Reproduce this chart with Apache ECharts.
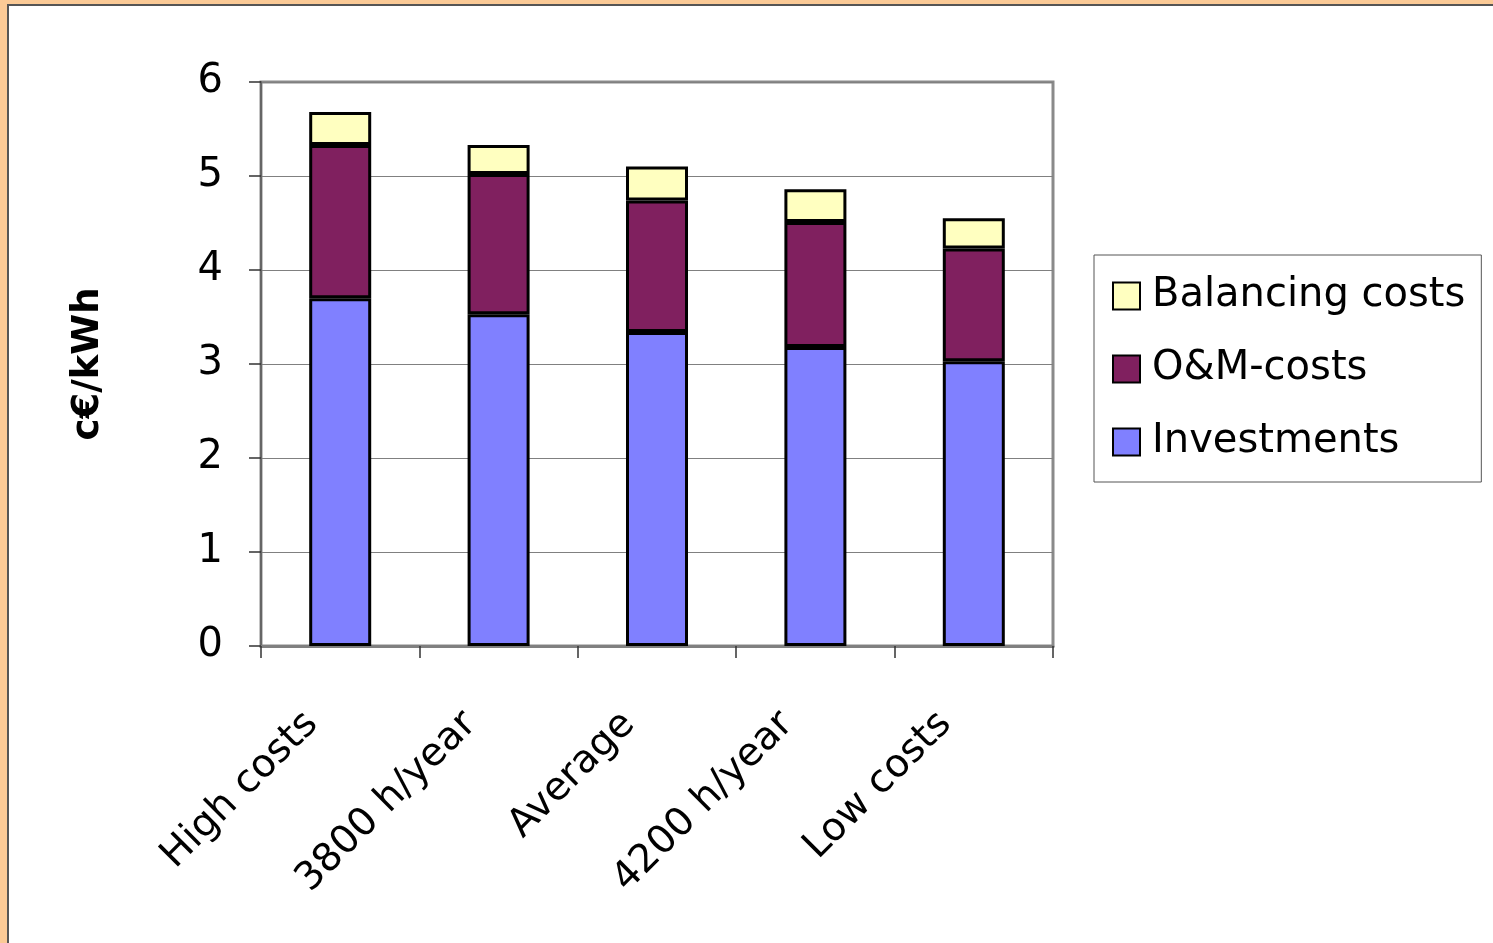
<!DOCTYPE html>
<html>
<head>
<meta charset="utf-8">
<script src="https://cdn.jsdelivr.net/npm/echarts@6/dist/echarts.min.js"></script>
<style>
  html, body { margin: 0; padding: 0; width: 1493px; height: 943px; overflow: hidden; background: #fbca96; }
  #panel { position: absolute; left: 7px; top: 4px; right: -4px; bottom: -4px; background: #fff; border-left: 2px solid #555; border-top: 2px solid #555; }
  #chart { position: absolute; left: 0; top: 0; width: 1493px; height: 943px; }
</style>
</head>
<body>
<div id="panel"></div>
<div id="chart"></div>
<script>
// categories and stacked values (c€/kWh)
const categories = ['High costs', '3800 h/year', 'Average', '4200 h/year', 'Low costs']
const investments = [3.70, 3.53, 3.34, 3.18, 3.03]
const omCosts = [1.63, 1.49, 1.40, 1.33, 1.20]
const balancing = [0.35, 0.31, 0.36, 0.35, 0.32]
const yTicks = [0, 1, 2, 3, 4, 5, 6]

const font = '"DejaVu Sans", "Liberation Sans", Arial, sans-serif'
const chart = echarts.init(document.getElementById('chart'))

// one bar series per cost part
function barSeries(name, data, color) {
  return {
    name: name,
    type: 'bar',
    stack: 'total',
    barWidth: 62,
    data: data,
    itemStyle: {
      color: color,
      borderColor: '#000',
      borderWidth: 3
    }
  }
}

chart.setOption({
  animation: false,
  grid: {
    left: 261,
    top: 82,
    right: 440,
    bottom: 297,
    show: true,
    borderColor: '#8a8a8a',
    borderWidth: 3
  },
  legend: {
    orient: 'vertical',
    left: 1094,
    top: 255,
    data: ['Balancing costs', 'O&M-costs', 'Investments'],
    icon: 'rect',
    itemWidth: 27,
    itemHeight: 27,
    itemGap: 33,
    padding: [21, 16, 20, 18],
    borderColor: '#555',
    borderWidth: 1,
    textStyle: { fontFamily: font, fontSize: 40, color: '#000', padding: [0, 0, 0, 7] }
  },
  xAxis: {
    type: 'category',
    data: categories,
    axisLine: { lineStyle: { color: '#808080', width: 3 } },
    axisTick: { show: true, length: 12, lineStyle: { color: '#333', width: 1.5 } },
    axisLabel: {
      interval: 0,
      rotate: 45,
      margin: 44,
      padding: [0, 40, 0, 0],
      fontFamily: font,
      fontSize: 39,
      color: '#000'
    }
  },
  yAxis: {
    type: 'value',
    min: yTicks[0],
    max: yTicks[yTicks.length - 1],
    interval: 1,
    name: 'c€/kWh',
    nameLocation: 'middle',
    nameRotate: 90,
    nameGap: 154,
    nameTextStyle: { fontFamily: font, fontSize: 37, fontWeight: 'bold', color: '#000' },
    axisLine: { show: true, lineStyle: { color: '#666', width: 2 } },
    axisTick: { show: true, length: 12, lineStyle: { color: '#333', width: 1.5 } },
    splitLine: { lineStyle: { color: '#808080', width: 1 } },
    axisLabel: { margin: 38, fontFamily: font, fontSize: 40, color: '#000' }
  },
  series: [
    barSeries('Investments', investments, '#8080ff'),
    barSeries('O&M-costs', omCosts, '#80205f'),
    barSeries('Balancing costs', balancing, '#ffffc0')
  ]
})
</script>
</body>
</html>
